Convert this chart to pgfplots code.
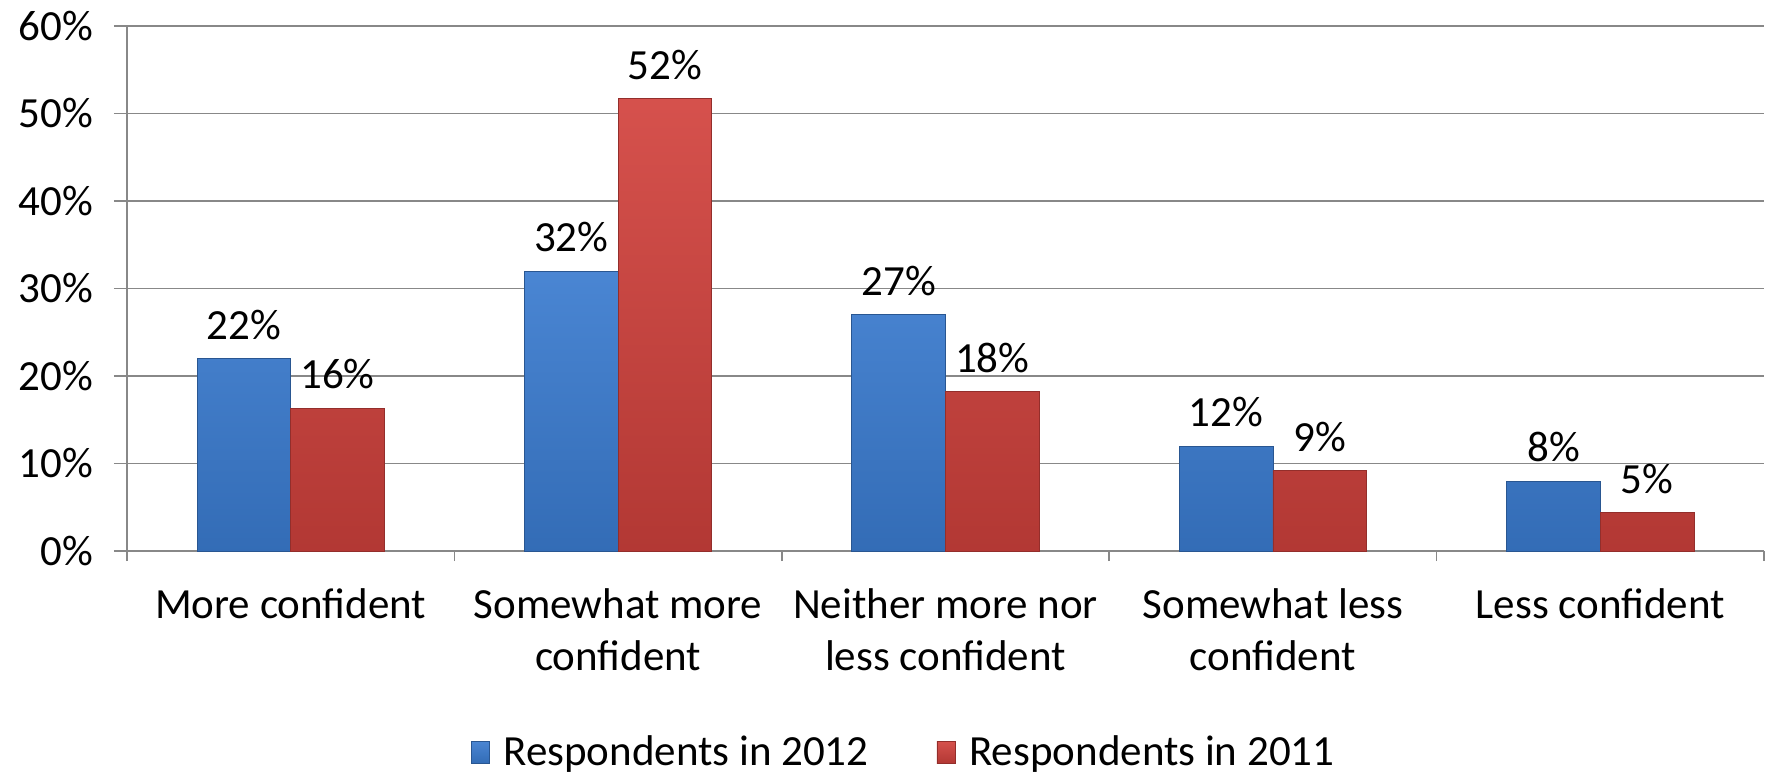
\documentclass[border=0pt]{standalone}
\usepackage{pgfplots}
\pgfplotsset{compat=1.18}
\usepackage{pgfplotstable}
\usepackage{fontspec}
\setmainfont{Carlito}
\definecolor{cblue}{HTML}{3A7BCF}
\definecolor{cred}{HTML}{D2423D}
\definecolor{cgrid}{HTML}{888888}
\newcommand{\cf}{\fontsize{21.5}{26}\selectfont}
\pgfplotstableread{
x y lab
0 22 22
1 32 32
2 27 27
3 12 12
4 8 8
}\tblA
\pgfplotstableread{
x y lab
0 16.3 16
1 51.7 52
2 18.2 18
3 9.2 9
4 4.4 5
}\tblB
\begin{document}
\begin{tikzpicture}
\begin{axis}[
  name=ax,
  width=818.5pt, height=262.5pt, scale only axis,
  /pgf/number format/assume math mode=true,
  font=\cf,
  xmin=-0.5, xmax=4.5, ymin=0, ymax=60,
  ybar=0pt, bar width=0.286,
  xtick={0,1,2,3,4},
  xticklabels={More confident,{Somewhat more\\confident},{Neither more nor\\less confident},{Somewhat less\\confident},Less confident},
  xticklabel style={align=center, yshift=-9pt, font=\cf},
  major x tick style={draw=none},
  minor xtick={-0.5,0.5,1.5,2.5,3.5,4.5},
  minor x tick style={cgrid, thick},
  minor tick length=5pt,
  major tick length=6.5pt,
  ytick={0,10,...,60},
  yticklabel={\pgfmathprintnumber{\tick}\%},
  yticklabel style={xshift=-7pt, font=\cf},
  y tick style={cgrid, thick},
  ymajorgrids, grid style={cgrid, thick},
  axis x line*=bottom, axis y line*=left,
  axis line style={cgrid, thick, -},
  tick align=outside,
  nodes near coords={\pgfmathprintnumber{\pgfplotspointmeta}\%},
  point meta=explicit,
  every node near coord/.append style={anchor=south, yshift=6pt, font=\cf, black},
  legend style={at={(0.475,-0.383)}, anchor=center, draw=none, fill=none,
    legend columns=2, font=\cf,
    /tikz/every even column/.append style={column sep=32pt}},
  legend image code/.code={\path[#1] (0pt,-5.5pt) rectangle (9pt,5.5pt); \path (14pt,0pt);},
]
\addplot[draw=cblue!70!black, top color=cblue!92!white, bottom color=cblue!88!black] table[x=x,y=y,meta=lab]{\tblA};
\addplot[draw=cred!70!black, top color=cred!92!white, bottom color=cred!85!black] table[x=x,y=y,meta=lab]{\tblB};
\legend{Respondents in 2012, Respondents in 2011}
\coordinate (sw) at (rel axis cs:0,0);
\coordinate (ne) at (rel axis cs:1,1);
\end{axis}
\pgfresetboundingbox
\path ([xshift=-63.5pt,yshift=-111pt]sw) rectangle ([xshift=1.5pt,yshift=13pt]ne);
\end{tikzpicture}
\end{document}
